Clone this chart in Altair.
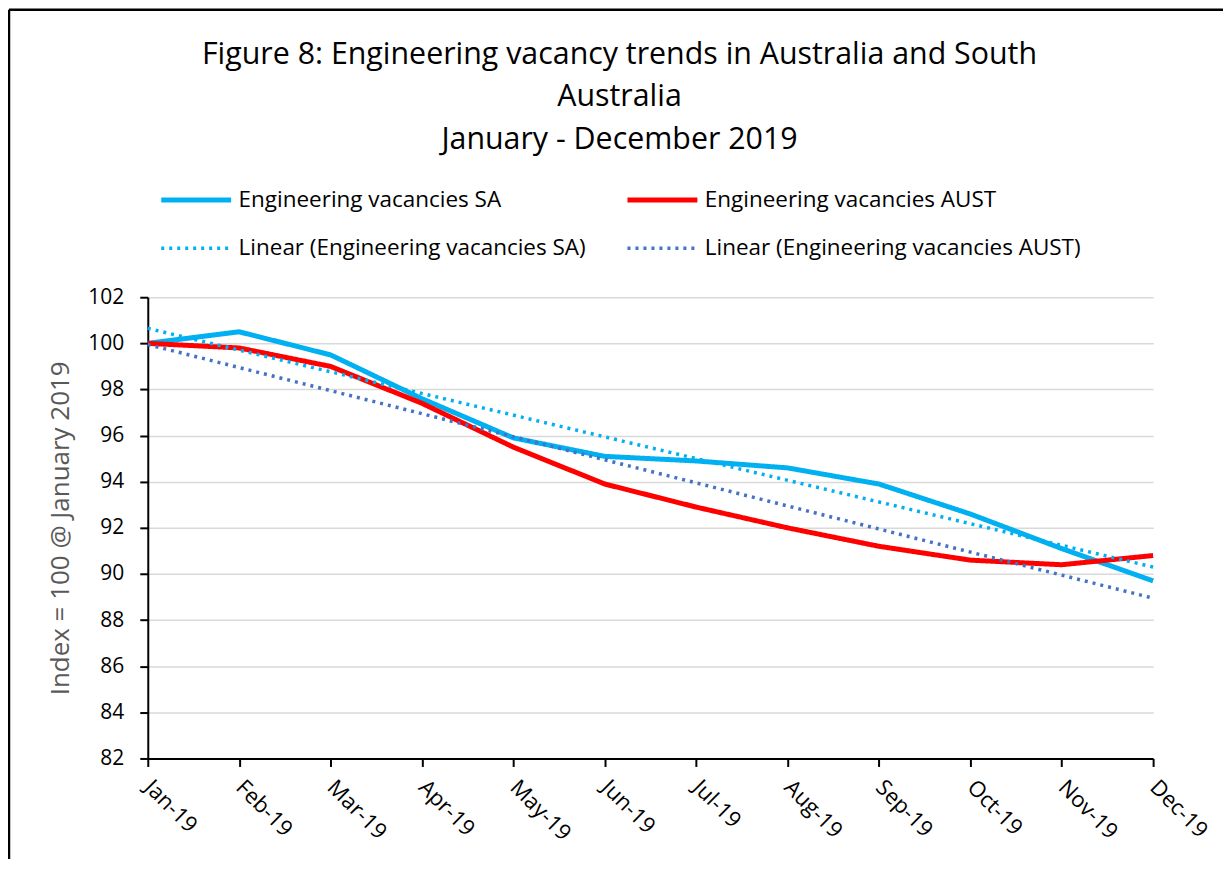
import altair as alt
import pandas as pd

months = ["Jan-19", "Feb-19", "Mar-19", "Apr-19", "May-19", "Jun-19",
          "Jul-19", "Aug-19", "Sep-19", "Oct-19", "Nov-19", "Dec-19"]
sa = [100.0, 100.5, 99.5, 97.6, 95.9, 95.1, 94.9, 94.6, 93.9, 92.6, 91.1, 89.7]
aust = [100.0, 99.8, 99.0, 97.4, 95.5, 93.9, 92.9, 92.0, 91.2, 90.6, 90.4, 90.8]
# Excel linear trendlines, read at the first and last month
trend_idx = [0, 11]
trend_sa = [100.65, 90.3]
trend_aust = [99.95, 88.95]

# legend order (Vega fills legend columns top to bottom)
series_names = ["Engineering vacancies SA", "Linear (Engineering vacancies SA)",
                "Engineering vacancies AUST", "Linear (Engineering vacancies AUST)"]
series_colors = ["#00B0F0", "#00B0F0", "#FF0000", "#4472C4"]
series_dash = [[1, 0], [3, 5], [1, 0], [3, 5]]
series_width = [5, 3.5, 5, 3.5]

rows = []
for i, m in enumerate(months):
    rows.append({"idx": i, "value": sa[i], "series": series_names[0]})
    rows.append({"idx": i, "value": aust[i], "series": series_names[2]})
for j, t in enumerate(trend_idx):
    rows.append({"idx": t, "value": trend_sa[j], "series": series_names[1]})
    rows.append({"idx": t, "value": trend_aust[j], "series": series_names[3]})
df = pd.DataFrame(rows)

FONT = "Open Sans"
label_js = "[" + ",".join("'%s'" % m for m in months) + "]"

x_enc = alt.X("idx:Q", scale=alt.Scale(domain=[0, 11], nice=False, zero=False),
              axis=alt.Axis(values=list(range(12)), labelExpr=label_js + "[datum.value]",
                            title=None, grid=False, labelAngle=45, labelAlign="left",
                            labelBaseline="middle", labelPadding=17, labelFontSize=22))
y_enc = alt.Y("value:Q", scale=alt.Scale(domain=[82, 102], nice=False, zero=False),
              axis=alt.Axis(values=list(range(82, 103, 2)), title="Index = 100 @ January 2019",
                            titleColor="#595959", titleFontSize=26, titleFontWeight="normal",
                            titlePadding=14, labelFontSize=21, labelPadding=16, grid=True,
                            gridColor="#D9D9D9", gridWidth=1.5))

legend = alt.Legend(title=None, orient="none", legendX=11, legendY=-135, columns=2,
                    symbolType="stroke", symbolSize=4900, labelFontSize=22.5, labelLimit=600,
                    labelFont=FONT, labelColor="#000000", columnPadding=31, rowPadding=-22,
                    labelOffset=5, padding=0)

color_enc = alt.Color("series:N", scale=alt.Scale(domain=series_names, range=series_colors),
                      legend=legend)
dash_enc = alt.StrokeDash("series:N", scale=alt.Scale(type="ordinal", domain=series_names,
                                                      range=series_dash), legend=legend)
width_enc = alt.StrokeWidth("series:N", scale=alt.Scale(type="ordinal", domain=series_names,
                                                        range=series_width), legend=legend)

lines = alt.Chart(df).mark_line(strokeJoin="round").encode(
    x=x_enc, y=y_enc, color=color_enc, strokeDash=dash_enc, strokeWidth=width_enc,
    order=alt.Order("idx:Q"))

frame_left = alt.Chart(pd.DataFrame({"a": [0]})).mark_rule(color="#000000", strokeWidth=2.5).encode(
    x=alt.value(-139), y=alt.value(-288), y2=alt.value(600))
frame_top = alt.Chart(pd.DataFrame({"a": [0]})).mark_rule(color="#000000", strokeWidth=2.5).encode(
    x=alt.value(-139), x2=alt.value(1100), y=alt.value(-288))

chart = alt.layer(lines, frame_left, frame_top).properties(
    width=1007, height=462,
    autosize=alt.AutoSizeParams(type="none"),
    padding={"left": 140, "top": 289, "right": 70, "bottom": 100},
    title=alt.TitleParams(
        text=["Figure 8: Engineering vacancy trends in Australia and South", "Australia",
              "January - December 2019"],
        fontSize=30.4, lineHeight=42.5, font=FONT, fontWeight="normal", color="#000000",
        anchor="middle", frame="group", dx=-31, offset=-147),
).configure(font=FONT).configure_view(stroke=None).configure_axis(
    domainColor="#000000", domainWidth=2, tickColor="#000000", tickWidth=2, tickSize=8,
    labelColor="#000000", labelFont=FONT, titleFont=FONT)

chart.save("out.html", embed_options={"renderer": "svg", "actions": False})
